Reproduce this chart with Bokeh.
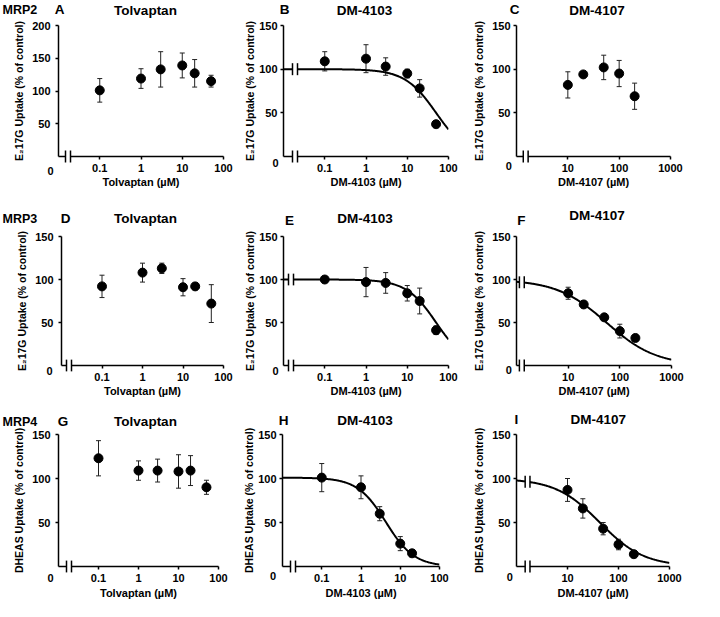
import math
from bokeh.plotting import figure
from bokeh.models import (ColumnDataSource, Whisker, TeeHead, FixedTicker,
                          Range1d, CustomJSTickFormatter)
from bokeh.core.properties import value
from bokeh.layouts import row, column
from bokeh.embed import file_html
from bokeh.resources import INLINE

# ---------------- data ----------------
tolvaptan_conc = [0.1, 1, 3, 10, 20, 50]
dm4103_conc = [0.1, 1, 3, 10, 20, 50]
dm4103_conc_mrp4 = [0.1, 1, 3, 10, 20]
dm4107_conc = [10, 20, 50, 100, 200]

mrp2_tolvaptan_mean = [101, 119, 133, 139, 127, 115]
mrp2_tolvaptan_sd = [18, 15, 27, 19, 21, 9]
mrp2_dm4103_mean = [109, 112, 103, 95, 78, 37]
mrp2_dm4103_sd = [11, 16, 10, 5, 10, 4]
mrp2_dm4107_mean = [82, 94, 102, 95, 69]
mrp2_dm4107_sd = [15, 2, 14, 15, 15]

mrp3_tolvaptan_mean = [92, 108, 113, 91, 92, 72]
mrp3_tolvaptan_sd = [13, 11, 6, 10, 4, 22]
mrp3_dm4103_mean = [100, 97, 96, 84, 75, 41]
mrp3_dm4103_sd = [2, 17, 12, 9, 15, 5]
mrp3_dm4107_mean = [84, 71, 56, 40, 32]
mrp3_dm4107_sd = [7, 4, 3, 8, 4]

mrp4_tolvaptan_mean = [123, 109, 109, 108, 109, 90]
mrp4_tolvaptan_sd = [20, 11, 13, 19, 17, 8]
mrp4_dm4103_mean = [101, 90, 60, 26, 15]
mrp4_dm4103_sd = [16, 13, 8, 8, 4]
mrp4_dm4107_mean = [87, 66, 43, 25, 14]
mrp4_dm4107_sd = [13, 11, 7, 6, 4]

# fitted inhibition curves: (top %, IC50 uM, Hill slope)
mrp2_dm4103_fit = (100, 50, 1.15)
mrp3_dm4103_fit = (100, 50, 1.2)
mrp3_dm4107_fit = (100, 55, 0.9)
mrp4_dm4103_fit = (101, 4.3, 1.2)
mrp4_dm4107_fit = (100, 43, 1.0)

x_ticks_low = [0.1, 1, 10, 100]
x_ticks_high = [10, 100, 1000]
y_ticks_150 = [50, 100, 150]
y_ticks_200 = [50, 100, 150, 200]

transporters = ["MRP2", "MRP3", "MRP4"]
drugs = ["Tolvaptan", "DM-4103", "DM-4107"]
x_labels = ["Tolvaptan (µM)", "DM-4103 (µM)", "DM-4107 (µM)"]
y_label_e217g = "E₂17G Uptake (% of control)"
y_label_dheas = "DHEAS Uptake (% of control)"

# ---------------- layout (screen coordinates) ----------------
FONT = "Liberation Sans"
COLS = [(0, 240), (240, 230), (470, 234)]
ROWS = [(0, 200), (200, 200), (400, 201)]
Y_TICK_STANDOFF = [5, 3, 3]
Y_LABEL_STANDOFF = [4, 0, 4]
LOW = (0.01, 100)
HIGH = (1, 1000)


def make_panel(col, rw, frame, xr, ytop, yticks, xticks, xlabel, ylabel,
               conc, mean, sd, fit, brk, curve_brk, letter, letter_pos,
               title, title_pos, zero_off, xl_standoff, mrp=None, mrp_y=None):
    cx, cw = COLS[col]
    ry, rh = ROWS[rw]
    L, R, T, B = frame
    p = figure(width=cw, height=rh, x_axis_type="log",
               x_range=Range1d(*xr), y_range=Range1d(0, ytop),
               output_backend="svg", toolbar_location=None,
               min_border_left=L - cx, min_border_right=cx + cw - R,
               min_border_top=T - ry, min_border_bottom=ry + rh - B)
    p.outline_line_color = None
    p.xgrid.visible = False
    p.ygrid.visible = False
    p.background_fill_color = "white"
    p.border_fill_color = "white"

    fw, fh = R - L, B - T
    lx0, lx1 = math.log10(xr[0]), math.log10(xr[1])

    def X(px):
        return 10 ** (lx0 + (px - L) / fw * (lx1 - lx0))

    def Y(py):
        return ytop * (B - py) / fh

    # axes
    for ax in (p.xaxis[0], p.yaxis[0]):
        ax.axis_line_width = 1.5
        ax.axis_line_color = "black"
        ax.major_tick_line_width = 1.5
        ax.major_tick_line_color = "black"
        ax.major_tick_in = 0
        ax.major_tick_out = 3
        ax.minor_tick_line_color = None
        ax.major_label_text_font = FONT
        ax.major_label_text_font_style = "bold"
        ax.major_label_text_font_size = "11px"
        ax.major_label_text_color = "black"
        ax.axis_label_text_font = FONT
        ax.axis_label_text_font_style = "bold"
        ax.axis_label_text_color = "black"
    p.xaxis.axis_label_text_font_size = "11px"
    p.yaxis.axis_label_text_font_size = "10.5px"
    p.xaxis.ticker = FixedTicker(ticks=xticks)
    p.xaxis.formatter = CustomJSTickFormatter(code="return tick.toString()")
    p.xaxis.major_label_standoff = 4
    p.xaxis.axis_label = xlabel
    p.xaxis.axis_label_standoff = xl_standoff
    p.yaxis.ticker = FixedTicker(ticks=yticks)
    p.yaxis.major_label_standoff = Y_TICK_STANDOFF[col]
    p.yaxis.axis_label = ylabel
    p.yaxis.axis_label_standoff = Y_LABEL_STANDOFF[col]

    # fitted curve
    if fit is not None:
        top, ic50, hill = fit
        n = 240
        xs = [10 ** (lx0 + i * (lx1 - lx0) / n) for i in range(n + 1)]
        ys = [top / (1 + (x / ic50) ** hill) for x in xs]
        p.line(xs, ys, line_color="black", line_width=2)

    # data with SD error bars
    src = ColumnDataSource(dict(
        x=conc, y=mean,
        upper=[m + s for m, s in zip(mean, sd)],
        lower=[m - s for m, s in zip(mean, sd)]))
    w = Whisker(base="x", upper="upper", lower="lower", source=src,
                line_color="#222222", line_width=1,
                upper_head=TeeHead(size=5, line_color="#222222", line_width=1),
                lower_head=TeeHead(size=5, line_color="#222222", line_width=1))
    p.add_layout(w)
    p.scatter("x", "y", source=src, size=9, marker="circle",
              fill_color="black", line_color="black")

    # axis break marks
    b1, b2 = X(L + brk), X(L + brk + 5)
    p.quad(left=[b1], right=[b2], bottom=[Y(B + 3)], top=[Y(B - 3)],
           fill_color="white", line_color=None, level="overlay")
    p.segment(x0=[b1, b2], x1=[b1, b2], y0=[Y(B + 6)] * 2, y1=[Y(B - 6)] * 2,
              line_color="black", line_width=1.5, level="overlay")
    if curve_brk and fit is not None:
        top, ic50, hill = fit
        yc = top / (1 + (math.sqrt(b1 * b2) / ic50) ** hill)
        pyc = B - yc / ytop * fh
        p.quad(left=[b1], right=[b2], bottom=[Y(pyc + 3)], top=[Y(pyc - 3)],
               fill_color="white", line_color=None, level="overlay")
        p.segment(x0=[b1, b2], x1=[b1, b2], y0=[Y(pyc + 6)] * 2,
                  y1=[Y(pyc - 6)] * 2, line_color="black", line_width=1.5,
                  level="overlay")

    def lab(text, px, py, size, align="center"):
        p.text(x=[X(px)], y=[Y(py)], text=[text], text_font=value(FONT),
               text_font_style="bold", text_font_size=value(size),
               text_align=align, text_baseline="middle", text_color="black",
               level="overlay")

    lab("0", L + zero_off[0], B + zero_off[1], "11px")
    lab(letter, letter_pos[0], letter_pos[1], "13.5px")
    lab(title, title_pos[0], title_pos[1], "13.5px")
    if mrp is not None:
        lab(mrp, 2, mrp_y, "12.5px", align="left")
    return p


pA = make_panel(0, 0, (58, 223, 25, 156), LOW, 200, y_ticks_200, x_ticks_low,
                x_labels[0], y_label_e217g, tolvaptan_conc, mrp2_tolvaptan_mean,
                mrp2_tolvaptan_sd, None, 7, False, "A", (59, 9), drugs[0],
                (145, 9.5), (-8, 14), 1, transporters[0], 9.5)
pB = make_panel(1, 0, (283, 448, 25, 156), LOW, 150, y_ticks_150, x_ticks_low,
                x_labels[1], y_label_e217g, dm4103_conc, mrp2_dm4103_mean,
                mrp2_dm4103_sd, mrp2_dm4103_fit, 9, True, "B", (284, 9),
                drugs[1], (364, 9.5), (-8, 6), 1)
pC = make_panel(2, 0, (511, 670, 25, 156), HIGH, 150, y_ticks_150, x_ticks_high,
                x_labels[2], y_label_e217g, dm4107_conc, mrp2_dm4107_mean,
                mrp2_dm4107_sd, None, 7, False, "C", (509, 9), drugs[2],
                (594, 9.5), (-8, 9), 1)

pD = make_panel(0, 1, (61, 223, 233, 365), LOW, 150, y_ticks_150, x_ticks_low,
                x_labels[0], y_label_e217g, tolvaptan_conc, mrp3_tolvaptan_mean,
                mrp3_tolvaptan_sd, None, 5, False, "D", (65, 215), drugs[0],
                (145, 215), (-12, 6), 1, transporters[1], 215)
pE = make_panel(1, 1, (283, 448, 233, 365), LOW, 150, y_ticks_150, x_ticks_low,
                x_labels[1], y_label_e217g, dm4103_conc, mrp3_dm4103_mean,
                mrp3_dm4103_sd, mrp3_dm4103_fit, 5, True, "E", (289, 217),
                drugs[1], (364.5, 215), (-8, 6), 1)
pF = make_panel(2, 1, (511, 671, 236, 366), HIGH, 150, y_ticks_150, x_ticks_high,
                x_labels[2], y_label_e217g, dm4107_conc, mrp3_dm4107_mean,
                mrp3_dm4107_sd, mrp3_dm4107_fit, 3, True, "F", (516, 220),
                drugs[2], (594, 215), (-8, 5), 1)

pG = make_panel(0, 2, (58, 218, 432, 566), LOW, 150, y_ticks_150, x_ticks_low,
                x_labels[0], y_label_dheas, tolvaptan_conc, mrp4_tolvaptan_mean,
                mrp4_tolvaptan_sd, None, 8, False, "G", (62.5, 419), drugs[0],
                (145, 419), (-8, 12), 2, transporters[2], 419)
pH = make_panel(1, 2, (282, 439, 433, 566), LOW, 150, y_ticks_150, x_ticks_low,
                x_labels[1], y_label_dheas, dm4103_conc_mrp4, mrp4_dm4103_mean,
                mrp4_dm4103_sd, mrp4_dm4103_fit, 8, False, "H", (283, 419),
                drugs[1], (364.5, 419), (-9.5, 10), 2)
pI = make_panel(2, 2, (510, 669, 434, 566), HIGH, 150, y_ticks_150, x_ticks_high,
                x_labels[2], y_label_dheas, dm4107_conc, mrp4_dm4107_mean,
                mrp4_dm4107_sd, mrp4_dm4107_fit, 9, True, "I", (510, 419),
                drugs[2], (595, 419), (-7, 10), 2)

layout = column(row(pA, pB, pC, spacing=0), row(pD, pE, pF, spacing=0),
                row(pG, pH, pI, spacing=0), spacing=0)

open("out.html", "w").write(file_html(layout, INLINE))
